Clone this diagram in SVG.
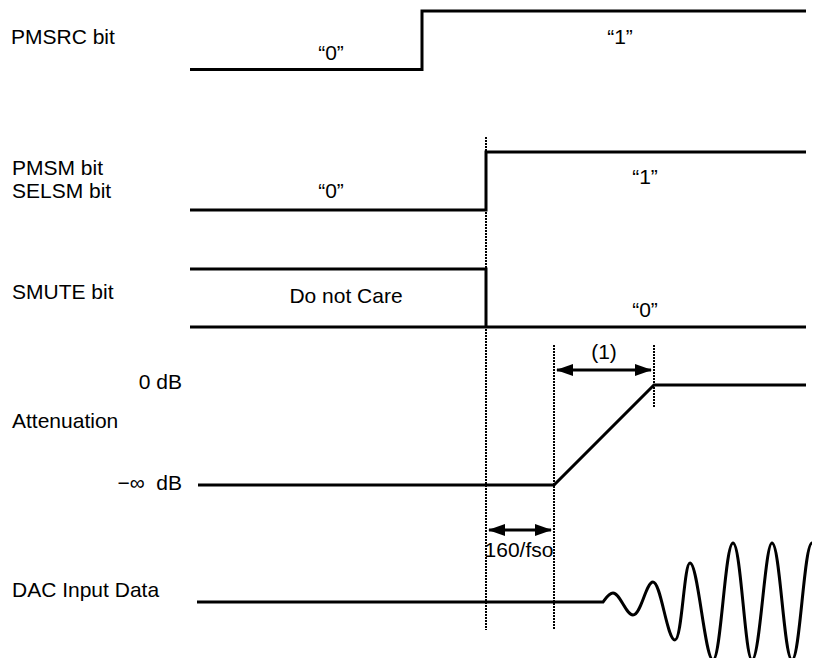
<svg xmlns="http://www.w3.org/2000/svg" width="814" height="658" viewBox="0 0 814 658">
<style>
text{font-family:"Liberation Sans",Arial,sans-serif;font-size:21px;fill:#000}
.sig{fill:none;stroke:#000;stroke-width:3;stroke-linejoin:miter}
.dot{fill:none;stroke:#000;stroke-width:2;stroke-dasharray:2 1}
.arr{fill:none;stroke:#000;stroke-width:3}
.mid{text-anchor:middle}
.end{text-anchor:end}
</style>
<defs>
<marker id="ah" viewBox="0 0 17 12" refX="16" refY="6" markerWidth="17" markerHeight="12" markerUnits="userSpaceOnUse" orient="auto-start-reverse">
<path d="M0,0 L17,6 L0,12 Z" fill="#000"/>
</marker>
</defs>
<g id="pmsrc">
<text x="11" y="44">PMSRC bit</text>
<path class="sig" d="M190,69.5 H422 V11 H806"/>
<text class="mid" x="331" y="60">“0”</text>
<text class="mid" x="620" y="44">“1”</text>
</g>
<g id="pmsm">
<text x="12" y="175">PMSM bit</text>
<text x="12" y="198">SELSM bit</text>
<path class="sig" d="M190,210 H486 V152 H806"/>
<text class="mid" x="331" y="198">“0”</text>
<text class="mid" x="645" y="184">“1”</text>
</g>
<g id="smute">
<text x="12" y="299">SMUTE bit</text>
<path class="sig" d="M190,269 H486 V327"/>
<path class="sig" d="M190,327 H806"/>
<text class="mid" x="346" y="303">Do not Care</text>
<text class="mid" x="645" y="317">“0”</text>
</g>
<g id="attenuation">
<text class="end" x="182" y="389">0 dB</text>
<text x="12" y="428">Attenuation</text>
<text class="end" x="182" y="490" xml:space="preserve">−∞  dB</text>
<path class="sig" d="M198,485 H554 L654,385 H806"/>
</g>
<g id="dac">
<text x="12" y="597">DAC Input Data</text>
<path class="sig" d="M197,602 H603 C606,598 609,593 613,593 C620,593 626,615 633,615 C641,615 646,582 653,582 C661,582 667,640 675,640 C682,640 684,563 690,563 C698,563 705,660 713,660 C721,660 725,543 733,543 C741,543 745,660 752,660 C760,660 765,543 772,543 C780,543 784,660 792,660 C800,660 804,543 812,543"/>
</g>
<g id="connectors">
<path class="dot" d="M486,137 V630"/>
<path class="dot" d="M554,345 V630"/>
<path class="dot" d="M654,345 V408"/>
<path class="arr" d="M557,370 H651" marker-start="url(#ah)" marker-end="url(#ah)"/>
<text class="mid" x="604" y="359">(1)</text>
<path class="arr" d="M489,530 H551" marker-start="url(#ah)" marker-end="url(#ah)"/>
<text class="mid" x="519" y="557">160/fso</text>
</g>
</svg>
